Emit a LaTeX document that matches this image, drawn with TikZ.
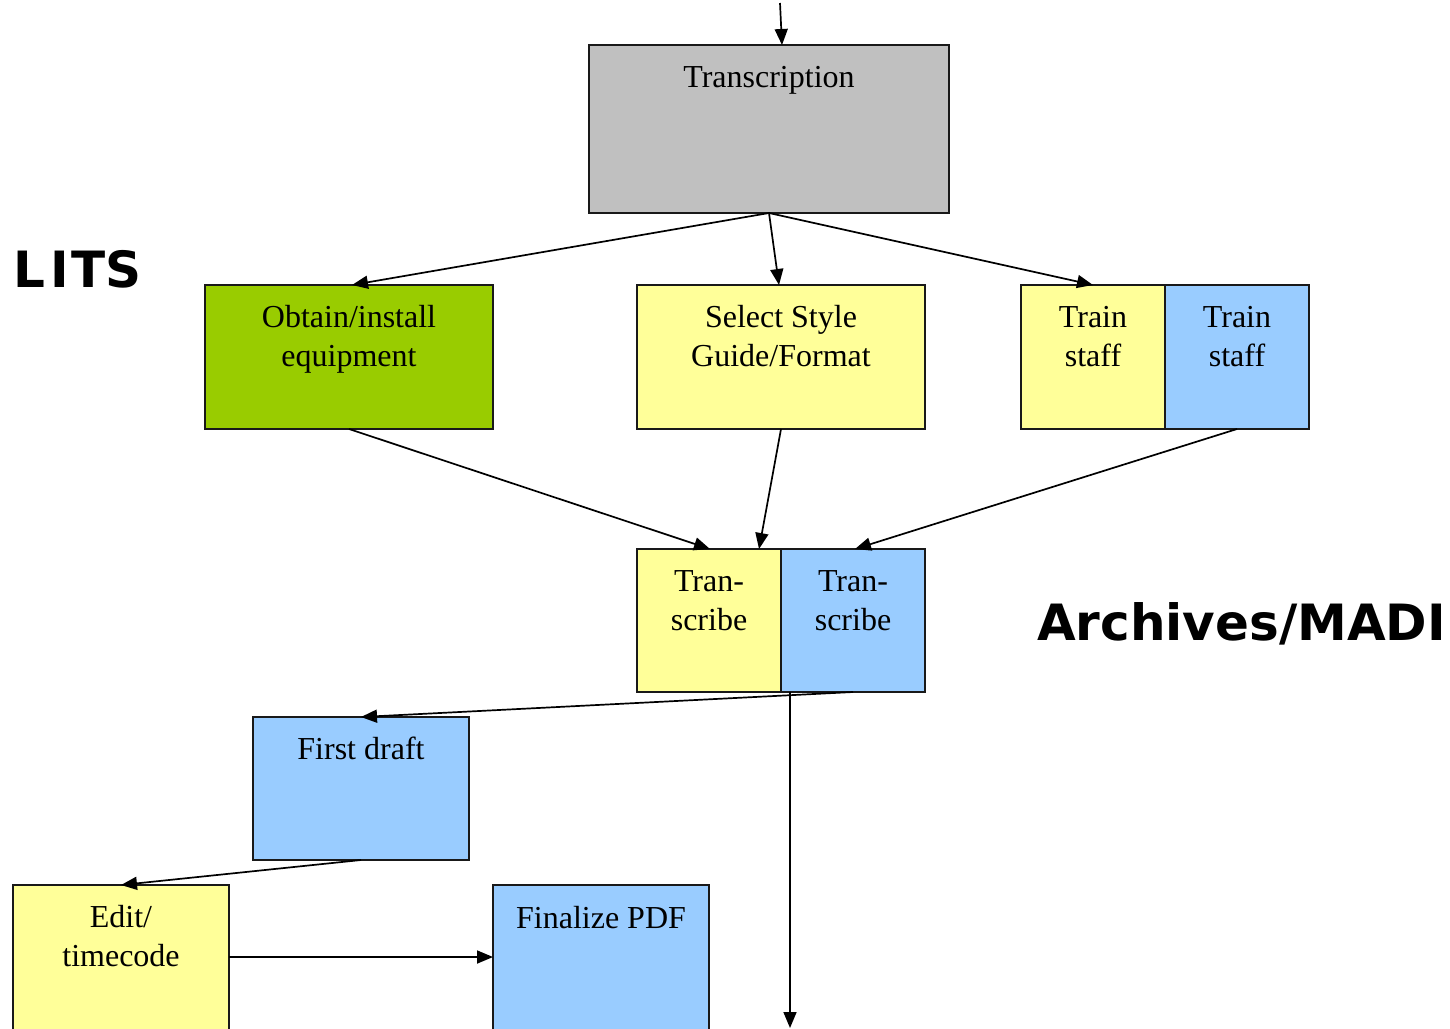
\documentclass[tikz,border=0pt]{standalone}
\usepackage{fontspec}
\setmainfont{Liberation Serif}
\newfontfamily\lblfont{DejaVu Sans}
\usetikzlibrary{arrows.meta,calc}
\definecolor{boxgray}{HTML}{C0C0C0}
\definecolor{boxgreen}{HTML}{99CC00}
\definecolor{boxyellow}{HTML}{FFFF99}
\definecolor{boxblue}{HTML}{99CCFF}
\begin{document}
\begin{tikzpicture}[x=1pt,y=-1pt,
  box/.style={draw=black!90,line width=1.7pt,anchor=north west,inner sep=0pt,outer sep=0pt},
  boxtext/.style={anchor=north,inner sep=0pt,align=center,font=\fontsize{32}{39}\selectfont},
  conn/.style={line width=1.7pt,-{Triangle[length=16pt,width=13pt]}},
  side/.style={font=\lblfont\bfseries\fontsize{50}{56}\selectfont,inner sep=0pt}]
\useasboundingbox (0,0) rectangle (1450,1028);
\clip (0,0) rectangle (1450,1028);
% boxes
\node[box,fill=boxgray,minimum width=360pt,minimum height=168pt] (trans) at (589,45) {};
\node[box,fill=boxgreen,minimum width=288pt,minimum height=144pt] (obtain) at (205,285) {};
\node[box,fill=boxyellow,minimum width=288pt,minimum height=144pt] (style) at (637,285) {};
\node[box,fill=boxyellow,minimum width=144pt,minimum height=144pt] (trainY) at (1021,285) {};
\node[box,fill=boxblue,minimum width=144pt,minimum height=144pt] (trainB) at (1165,285) {};
\node[box,fill=boxyellow,minimum width=144pt,minimum height=143pt] (tranY) at (637,549) {};
\node[box,fill=boxblue,minimum width=144pt,minimum height=143pt] (tranB) at (781,549) {};
\node[box,fill=boxblue,minimum width=216pt,minimum height=143pt] (first) at (253,717) {};
\node[box,fill=boxyellow,minimum width=216pt,minimum height=160pt] (edit) at (13,885) {};
\node[box,fill=boxblue,minimum width=216pt,minimum height=160pt] (final) at (493,885) {};
% texts
\node[boxtext] (transT) at ($(trans.north)+(0,21)$) {Transcription};
\node[boxtext] (obtainT) at ($(obtain.north)+(0,20)$) {Obtain/install\\equipment};
\node[boxtext] (styleT) at ($(style.north)+(0,20)$) {Select Style\\Guide/Format};
\node[boxtext] (trainYT) at ($(trainY.north)+(0,21)$) {Train\\staff};
\node[boxtext] (trainBT) at ($(trainB.north)+(0,21)$) {Train\\staff};
\node[boxtext] (tranYT) at ($(tranY.north)+(0,21)$) {Tran-\\scribe};
\node[boxtext] (tranBT) at ($(tranB.north)+(0,21)$) {Tran-\\scribe};
\node[boxtext] (firstT) at ($(first.north)+(0,20)$) {First draft};
\node[boxtext] (editT) at ($(edit.north)+(0,20)$) {Edit/\\timecode};
\node[boxtext] (finalT) at ($(final.north)+(0,21)$) {Finalize PDF};
% side labels
\node[side,anchor=base west] (lits) at (13,287) {L\kern5pt I\kern3pt TS};
\node[side,anchor=base west] (madi) at (1037,640) {Archives/MADI};
% connectors
\coordinate (in) at (780,3);
\coordinate (out) at (790,1028);
\draw[conn] (in) -- ($(trans.north)+(13,0)$);
\draw[conn] (trans.south) -- ($(obtain.north)+(3,0)$);
\draw[conn] (trans.south) -- ($(style.north)+(-2,0)$);
\draw[conn] (trans.south) -- (trainY.north);
\draw[conn] (obtain.south) -- ($(tranY.north)+(1,0)$);
\draw[conn] (style.south) -- ($(tranY.north)+(50,0)$);
\draw[conn] (trainB.south) -- ($(tranB.north)+(2,0)$);
\draw[conn] (tranB.south) -- (first.north);
\draw[conn] ($(tranB.south west)+(9,0)$) -- (out);
\draw[conn] (first.south) -- (edit.north);
\draw[conn] (edit.east |- 0,957) -- (final.west |- 0,957);
\end{tikzpicture}
\end{document}
